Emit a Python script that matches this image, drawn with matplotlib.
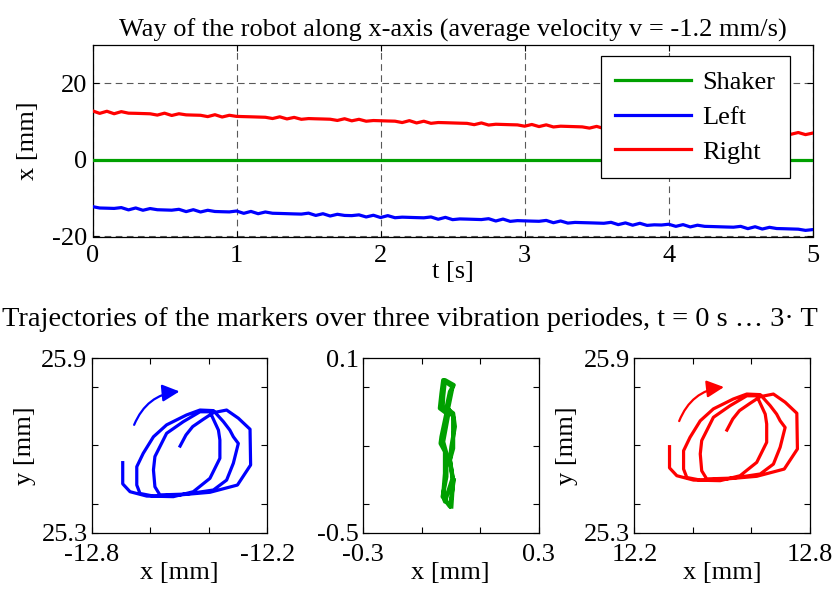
import numpy as np
import matplotlib
matplotlib.use('Agg')
import matplotlib.pyplot as plt

plt.rcParams['font.family'] = ['Liberation Serif', 'DejaVu Serif']
plt.rcParams['mathtext.fontset'] = 'stix'
plt.rcParams['axes.unicode_minus'] = False

# ---------------- data ----------------
t = np.linspace(0.0, 5.0, 101)

shaker_x = [0.0] * 101

left_x = [
    -12.20, -12.56, -12.61, -12.67, -12.45, -13.05, -12.55, -13.15, -12.70, -13.01,
    -13.07, -13.13, -12.90, -13.50, -13.00, -13.60, -13.15, -13.47, -13.53, -13.58,
    -13.35, -13.95, -13.45, -14.05, -13.60, -13.93, -13.98, -14.04, -14.10, -14.15,
    -13.90, -14.50, -14.05, -14.65, -14.20, -14.50, -14.55, -14.35, -14.90, -14.45,
    -15.05, -14.55, -15.10, -14.95, -15.01, -15.07, -15.12, -14.90, -15.50, -15.00,
    -15.60, -15.41, -15.46, -15.52, -15.58, -15.35, -15.95, -15.45, -16.05, -15.86,
    -15.92, -15.98, -16.03, -15.80, -16.40, -15.95, -16.50, -16.32, -16.38, -16.43,
    -16.49, -16.55, -16.30, -16.90, -16.45, -17.05, -16.55, -17.10, -16.95, -17.00,
    -16.80, -17.35, -16.90, -17.50, -17.05, -17.35, -17.40, -17.46, -17.52, -17.57,
    -17.35, -17.95, -17.45, -18.05, -17.60, -17.92, -17.97, -18.03, -18.09, -18.40,
    -18.20]

right_x = [
    12.80, 12.15, 12.70, 12.05, 12.60, 12.20, 12.16, 12.10, 12.04, 11.70,
    12.20, 11.60, 12.05, 11.76, 11.70, 11.65, 11.30, 11.80, 11.20, 11.65,
    11.36, 11.30, 11.25, 11.19, 11.13, 10.80, 11.25, 10.70, 11.10, 10.60,
    10.79, 10.73, 10.68, 10.62, 10.30, 10.75, 10.20, 10.60, 10.10, 10.28,
    10.22, 10.16, 10.11, 9.75, 10.25, 9.65, 10.10, 9.55, 9.76, 9.71,
    9.65, 9.59, 9.54, 9.20, 9.65, 9.10, 9.31, 9.25, 9.19, 9.14,
    8.80, 9.25, 8.70, 9.15, 8.60, 8.80, 8.74, 8.68, 8.62, 8.30,
    8.75, 8.20, 8.40, 8.34, 8.28, 8.23, 8.17, 8.11, 8.05, 8.00,
    7.94, 7.88, 7.83, 7.77, 7.71, 7.66, 7.60, 7.54, 7.48, 7.43,
    7.37, 7.31, 7.26, 7.20, 7.14, 7.09, 7.03, 6.70, 7.15, 6.60,
    7.00]

series_names = ['Shaker', 'Left', 'Right']
series_colors = ['#00a000', '#0000ff', '#ff0000']

# trajectories over three vibration periods
left_traj_x = [-12.498, -12.478, -12.455, -12.419, -12.384, -12.339, -12.299, -12.259,
               -12.257, -12.302, -12.396, -12.498, -12.589, -12.635, -12.646, -12.646,
               -12.624, -12.589, -12.544, -12.476, -12.430, -12.384, -12.350, -12.328,
               -12.316, -12.299, -12.316, -12.339, -12.384, -12.476, -12.567, -12.584,
               -12.589, -12.584, -12.544, -12.487, -12.430, -12.396, -12.367, -12.362,
               -12.362, -12.396, -12.453, -12.521, -12.612, -12.669, -12.694, -12.694]
left_traj_y = [25.598, 25.636, 25.665, 25.690, 25.713, 25.722, 25.694, 25.656,
               25.533, 25.464, 25.439, 25.430, 25.426, 25.435, 25.464, 25.527,
               25.573, 25.630, 25.671, 25.705, 25.722, 25.720, 25.682, 25.653,
               25.630, 25.607, 25.539, 25.481, 25.447, 25.433, 25.430, 25.458,
               25.516, 25.562, 25.642, 25.682, 25.716, 25.716, 25.653, 25.619,
               25.556, 25.487, 25.441, 25.424, 25.426, 25.441, 25.468, 25.541]

right_traj_x = [12.516, 12.536, 12.559, 12.595, 12.630, 12.675, 12.715, 12.755,
                12.757, 12.712, 12.618, 12.516, 12.425, 12.379, 12.368, 12.368,
                12.390, 12.425, 12.470, 12.538, 12.584, 12.630, 12.664, 12.686,
                12.698, 12.715, 12.698, 12.675, 12.630, 12.538, 12.447, 12.430,
                12.425, 12.430, 12.470, 12.527, 12.584, 12.618, 12.647, 12.652,
                12.652, 12.618, 12.561, 12.493, 12.402, 12.345, 12.320, 12.320]
right_traj_y = [25.653, 25.691, 25.720, 25.745, 25.768, 25.777, 25.749, 25.711,
                25.588, 25.519, 25.494, 25.485, 25.481, 25.490, 25.519, 25.582,
                25.628, 25.685, 25.726, 25.760, 25.777, 25.775, 25.737, 25.708,
                25.685, 25.662, 25.594, 25.536, 25.502, 25.488, 25.485, 25.513,
                25.571, 25.617, 25.697, 25.737, 25.771, 25.771, 25.708, 25.674,
                25.611, 25.542, 25.496, 25.479, 25.481, 25.496, 25.523, 25.596]

shaker_traj_x = [0.002, 0.008, -0.003, 0.008, 0.008, -0.009, 0.006, -0.026, -0.032,
                 -0.0375, -0.015, -0.032, -0.035, -0.020, -0.020, -0.026, -0.020,
                 0.006, -0.003, 0.002, 0.014, 0.008, -0.015, -0.003, 0.010, -0.020,
                 -0.026, -0.028, -0.009, -0.026, -0.015, -0.015, -0.028, -0.003, 0.010]
shaker_traj_y = [-0.410, -0.319, -0.250, -0.210, -0.101, -0.072, 0.002, 0.025, -0.021,
                 -0.072, -0.089, -0.170, -0.193, -0.221, -0.296, -0.370, -0.393,
                 -0.313, -0.250, -0.204, -0.135, -0.089, -0.072, -0.015, 0.008, 0.025,
                 -0.032, -0.072, -0.095, -0.187, -0.227, -0.307, -0.376, -0.410, -0.319]

# rotation arrows (start, end)
left_arrow = [(-12.655, 25.671), (-12.500, 25.786)]
right_arrow = [(12.353, 25.684), (12.506, 25.801)]

FS = 19

fig = plt.figure(figsize=(8.34, 6.0), dpi=100)

# ---------------- top plot ----------------
ax = fig.add_axes([92.5 / 834, 1 - 236.5 / 600, 720.2 / 834, 191.5 / 600])
lw = 2.3
ax.plot(t, shaker_x, color=series_colors[0], lw=lw, label=series_names[0], zorder=3)
ax.plot(t, left_x, color=series_colors[1], lw=lw, label=series_names[1], zorder=3)
ax.plot(t, right_x, color=series_colors[2], lw=lw, label=series_names[2], zorder=3)
ax.set_xlim(0, 5)
ax.set_ylim(-20, 30)
ax.set_xticks([0, 1, 2, 3, 4, 5])
ax.set_yticks([-20, 0, 20])
ax.grid(True, color='0.35', linestyle=(0, (6, 4)), lw=0.8)
ax.tick_params(direction='in', top=True, right=True, length=4, labelsize=FS, pad=4)
ax.tick_params(axis='x', pad=6)
ax.set_xlabel('t [s]', fontsize=FS, labelpad=-4)
ax.set_ylabel('x [mm]', fontsize=FS, labelpad=9)
ax.set_title('Way of the robot along x-axis (average velocity v = -1.2 mm/s)',
             fontsize=FS, pad=6)
leg = ax.legend(loc='upper right', bbox_to_anchor=(0.9685, 0.9426), borderaxespad=0,
                fontsize=FS, fancybox=False, framealpha=1, edgecolor='black',
                handlelength=2.85, handletextpad=0.45, labelspacing=0.43,
                borderpad=0.55)
leg.get_frame().set_linewidth(0.9)
for s in ax.spines.values():
    s.set_linewidth(0.9)

fig.text(410 / 834, 1 - 320 / 600,
         'Trajectories of the markers over three vibration periodes, t = 0 s \u2026 3\u00b7 T',
         ha='center', va='center', fontsize=20.4)

# ---------------- bottom plots ----------------
bw = 175.6 / 834
bh = 174.4 / 600
bb = 1 - 532.7 / 600
lefts = [91.7 / 834, 363.0 / 834, 634.4 / 834]

panels = [
    (left_traj_x, left_traj_y, series_colors[1], 2.3, (-12.8, -12.2), (25.3, 25.9),
     [-12.8, -12.6, -12.4, -12.2], [25.3, 25.4, 25.6, 25.8, 25.9],
     ['-12.8', '', '', '-12.2'], ['25.3', '', '', '', '25.9'], left_arrow, True),
    (shaker_traj_x, shaker_traj_y, series_colors[0], 3.0, (-0.3, 0.3), (-0.5, 0.1),
     [-0.3, -0.1, 0.1, 0.3], [-0.5, -0.4, -0.2, 0.0, 0.1],
     ['-0.3', '', '', '0.3'], ['-0.5', '', '', '', '0.1'], None, False),
    (right_traj_x, right_traj_y, series_colors[2], 2.3, (12.2, 12.8), (25.3, 25.9),
     [12.2, 12.4, 12.6, 12.8], [25.3, 25.4, 25.6, 25.8, 25.9],
     ['12.2', '', '', '12.8'], ['25.3', '', '', '', '25.9'], right_arrow, True),
]

for lft, (px, py, col, plw, xl, yl, xt, yt, xtl, ytl, arr, ylab) in zip(lefts, panels):
    a = fig.add_axes([lft, bb, bw, bh])
    a.plot(px, py, color=col, lw=plw, solid_joinstyle='round')
    a.set_xlim(*xl)
    a.set_ylim(*yl)
    a.set_xticks(xt)
    a.set_yticks(yt)
    a.set_xticklabels(xtl)
    a.set_yticklabels(ytl)
    a.tick_params(direction='in', top=True, right=True, length=4, labelsize=FS, pad=3)
    a.tick_params(axis='x', pad=8)
    a.set_xlabel('x [mm]', fontsize=FS, labelpad=-3)
    if ylab:
        a.set_ylabel('y [mm]', fontsize=FS, labelpad=4)
    if arr is not None:
        a.annotate('', xy=arr[1], xytext=arr[0],
                   arrowprops=dict(arrowstyle='-|>', connectionstyle='arc3,rad=-0.3',
                                   color=col, lw=1.6, mutation_scale=26,
                                   shrinkA=0, shrinkB=0))
    for s in a.spines.values():
        s.set_linewidth(0.9)

fig.savefig('out.png', dpi=100)
